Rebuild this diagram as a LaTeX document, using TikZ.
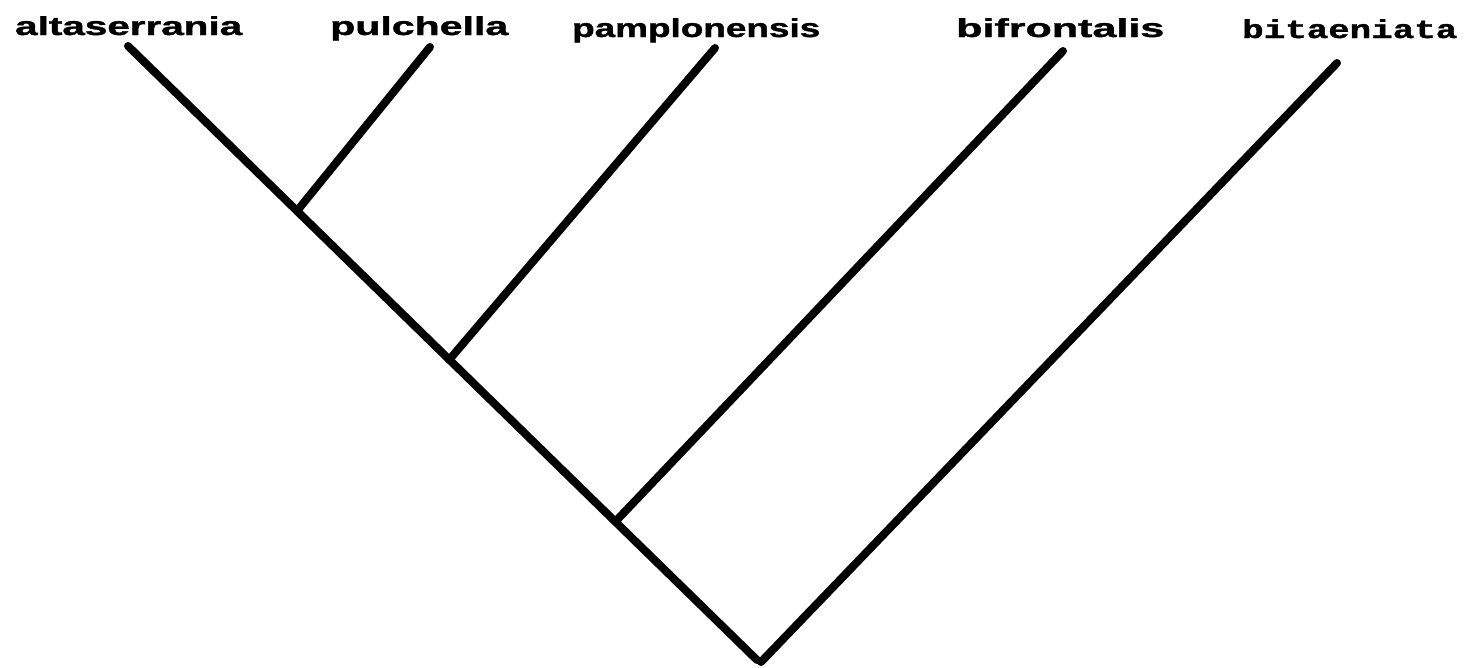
\documentclass[tikz,border=0pt]{standalone}
\usepackage{fontspec}
\setmainfont[BoldFeatures={FakeBold=1.2}]{Liberation Sans}
\newfontfamily\monofam[BoldFeatures={FakeBold=1.2}]{Liberation Mono}
\usepackage{graphicx}
\tikzset{
  branch/.style={line width=8pt, line cap=round, black},
  taxon/.style={anchor=base west, inner sep=0pt, font=\fontsize{26pt}{26pt}\selectfont\bfseries},
  taxonmono/.style={anchor=base west, inner sep=0pt, font=\fontsize{26pt}{26pt}\selectfont\monofam\bfseries}
}
\begin{document}
\begin{tikzpicture}[x=1pt,y=-1pt]
\useasboundingbox (0,0) rectangle (1466,667);
% labels
\node[taxon] (lA) at (15,35) {\resizebox{227pt}{\height}{altaserrania}};
\node[taxon] (lP) at (330,35) {\resizebox{178pt}{\height}{pulchella}};
\node[taxon] (lPa) at (572,37) {\resizebox{248pt}{\height}{pamplonensis}};
\node[taxon] (lB) at (956,37) {\resizebox{208pt}{\height}{bifrontalis}};
\node[taxonmono] (lBi) at (1242,38) {\resizebox{215pt}{\height}{bitaeniata}};
% tips and junctions
\coordinate (tA) at (128,46);
\coordinate (tP) at (430,47);
\coordinate (tPa) at (715,48);
\coordinate (tB) at (1063,51);
\coordinate (tBi) at (1337,63);
\coordinate (rootL) at (757,660);
\coordinate (rootR) at (761,662);
\coordinate (j1) at (297,211);
\coordinate (j2) at (449,360);
\coordinate (j3) at (616,521);
% branches
\draw[branch] (tA) -- (rootL);
\draw[branch] (rootR) -- (tBi);
\draw[branch] (j1) -- (tP);
\draw[branch] (j2) -- (tPa);
\draw[branch] (j3) -- (tB);
\end{tikzpicture}
\end{document}
